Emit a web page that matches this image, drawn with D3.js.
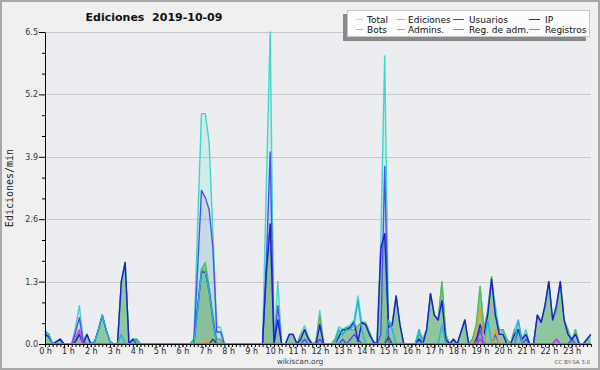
<!DOCTYPE html>
<html>
<head>
<meta charset="utf-8">
<script src="https://cdn.jsdelivr.net/npm/d3@7/dist/d3.min.js"></script>
<style>
  body { margin: 0; background: #f0f0f0; }
  svg { display: block; font-family: "DejaVu Sans", sans-serif; }
</style>
</head>
<body>
<svg id="chart" width="600" height="370"></svg>
<script>
// one value every 10 minutes, 6 per hour (each row = 2 hours)
const total = [
  0.27, 0.2, 0, 0.05, 0.1, 0,    0, 0, 0.35, 0.8, 0.1, 0.2,
  0, 0.05, 0.3, 0.6, 0.3, 0.05,  0, 0, 1.3, 1.7, 0, 0.1,
  0.1, 0, 0, 0, 0, 0,            0, 0, 0, 0, 0, 0,
  0, 0, 0, 0.1, 2.5, 4.8,        4.8, 4.2, 2.3, 0.35, 0.35, 0,
  0, 0, 0, 0, 0, 0,              0, 0, 0, 0, 3.3, 6.5,
  0, 1.3, 0, 0, 0.2, 0.2,        0, 0.2, 0.38, 0.15, 0, 0.05,
  0.7, 0, 0, 0, 0.1, 0.36,       0.3, 0.35, 0.4, 0.5, 1.0, 0.45,
  0.45, 0.25, 0.05, 0, 2.2, 6.0, 0.45, 0.45, 1.0, 0.4, 0, 0,
  0, 0, 0.3, 0.1, 0.3, 1.05,     0.6, 0.5, 1.3, 0.2, 0, 0.1,
  0, 0.25, 0.5, 0, 0.1, 0.4,     1.2, 0.3, 0.7, 1.4, 0.8, 0.3,
  0.3, 0.1, 0, 0.3, 0.5, 0.1,    0.3, 0, 0, 0.6, 0.45, 0.8,
  1.3, 0.5, 0.8, 1.3, 0.5, 0.3,  0.1, 0.3, 0, 0, 0.1, 0.2
];
const ediciones = [
  0.27, 0.2, 0, 0.05, 0.1, 0,    0, 0, 0.1, 0.25, 0.05, 0.2,
  0, 0.05, 0.3, 0.6, 0.3, 0.05,  0, 0, 1.3, 1.7, 0, 0.1,
  0.1, 0, 0, 0, 0, 0,            0, 0, 0, 0, 0, 0,
  0, 0, 0, 0.1, 0.8, 1.55,       1.7, 1.2, 0.6, 0.1, 0.1, 0,
  0, 0, 0, 0, 0, 0,              0, 0, 0, 0, 1.6, 2.5,
  0, 0.5, 0, 0, 0.2, 0.2,        0, 0.2, 0.28, 0.15, 0, 0.05,
  0.6, 0, 0, 0, 0.1, 0.3,        0.2, 0.35, 0.3, 0.3, 0.38, 0.45,
  0.45, 0.25, 0.05, 0, 2.0, 2.3, 0.4, 0.45, 1.0, 0.4, 0, 0,
  0, 0, 0.2, 0.1, 0.3, 1.05,     0.6, 0.5, 1.3, 0.2, 0, 0.1,
  0, 0.25, 0.5, 0, 0.1, 0.4,     1.2, 0.3, 0.7, 1.4, 0.6, 0.3,
  0.3, 0.1, 0, 0.3, 0.3, 0.1,    0.2, 0, 0, 0.6, 0.45, 0.8,
  1.3, 0.5, 0.7, 1.3, 0.5, 0.3,  0, 0.3, 0, 0, 0.1, 0.2
];
const registros = [
  0, 0, 0, 0, 0, 0,              0, 0, 0.25, 0.55, 0.05, 0,
  0, 0, 0, 0, 0, 0,              0, 0, 0, 0, 0, 0,
  0, 0, 0, 0, 0, 0,              0, 0, 0, 0, 0, 0,
  0, 0, 0, 0, 1.6, 3.2,          3.05, 2.8, 2.0, 0.25, 0.25, 0,
  0, 0, 0, 0, 0, 0,              0, 0, 0, 0, 1.7, 4.0,
  0, 0.8, 0, 0, 0, 0,            0, 0, 0.1, 0, 0, 0,
  0.1, 0, 0, 0, 0, 0,            0.1, 0, 0.1, 0.2, 0.1, 0,
  0, 0, 0, 0, 0.2, 3.7,          0.05, 0, 0, 0, 0, 0,
  0, 0, 0.1, 0, 0, 0,            0, 0, 0, 0, 0, 0,
  0, 0, 0, 0, 0, 0,              0.3, 0, 0, 0, 0.2, 0,
  0, 0, 0, 0, 0.3, 0,            0.1, 0, 0, 0, 0, 0,
  0, 0, 0.1, 0, 0, 0,            0.1, 0, 0, 0, 0, 0
];
const usuarios = [
  0.2, 0.15, 0, 0.05, 0.1, 0,    0, 0, 0.05, 0.2, 0, 0.2,
  0, 0.05, 0.3, 0.6, 0.3, 0.05,  0, 0, 1.3, 1.7, 0, 0.1,
  0, 0, 0, 0, 0, 0,              0, 0, 0, 0, 0, 0,
  0, 0, 0, 0, 0.75, 1.5,         1.5, 1.1, 0.5, 0, 0, 0,
  0, 0, 0, 0, 0, 0,              0, 0, 0, 0, 1.5, 2.5,
  0, 0.5, 0, 0, 0.2, 0.2,        0, 0.1, 0.3, 0.1, 0, 0,
  0.4, 0, 0, 0, 0, 0.15,         0.3, 0.3, 0.35, 0.46, 0.05, 0.45,
  0.4, 0.2, 0.05, 0, 2.0, 2.3,   0.35, 0.4, 1.0, 0.4, 0, 0,
  0, 0, 0.1, 0, 0.3, 1.05,       0.6, 0.5, 0.9, 0.1, 0, 0.1,
  0, 0.25, 0.5, 0, 0, 0.1,       0.4, 0.2, 0.6, 1.35, 0.6, 0.2,
  0.2, 0, 0, 0.2, 0.3, 0.1,      0.2, 0, 0, 0.6, 0.45, 0.8,
  1.3, 0.5, 0.8, 1.3, 0.5, 0.2,  0.1, 0.2, 0, 0, 0.1, 0.2
];
const admins = [
  0.27, 0.2, 0, 0, 0, 0,         0, 0, 0, 0, 0, 0,
  0, 0.05, 0.3, 0.6, 0.3, 0.05,  0, 0, 0.2, 0, 0, 0,
  0.1, 0, 0, 0, 0, 0,            0, 0, 0, 0, 0, 0,
  0, 0, 0, 0, 0.7, 1.55,         1.5, 1.1, 0.5, 0, 0, 0,
  0, 0, 0, 0, 0, 0,              0, 0, 0, 0, 0, 0,
  0, 0, 0, 0, 0, 0,              0, 0, 0, 0, 0, 0,
  0, 0, 0, 0, 0, 0.3,            0.2, 0.3, 0.3, 0.4, 0.9, 0.3,
  0, 0, 0, 0, 0, 0,              0.5, 0.3, 0, 0, 0, 0,
  0, 0, 0.3, 0, 0, 0,            0, 0, 0.4, 0, 0, 0,
  0, 0, 0, 0, 0, 0,              0, 0, 0.5, 0, 0, 0,
  0, 0, 0, 0, 0.5, 0,            0, 0, 0, 0, 0, 0,
  0, 0, 0, 0, 0, 0,              0, 0, 0, 0, 0, 0
];
const ip = [
  0, 0, 0, 0, 0, 0,  0, 0, 0, 0, 0, 0,
  0, 0, 0, 0, 0, 0,  0, 0, 0, 0, 0, 0,
  0, 0, 0, 0, 0, 0,  0, 0, 0, 0, 0, 0,
  0, 0, 0, 0, 0, 0,  0, 0, 0.1, 0, 0, 0,
  0, 0, 0, 0, 0, 0,  0, 0, 0, 0, 0, 0,
  0, 0, 0, 0, 0, 0,  0, 0, 0, 0, 0, 0,
  0, 0, 0, 0, 0, 0,  0, 0, 0, 0, 0, 0,
  0, 0, 0, 0, 0, 0,  0.15, 0, 0, 0, 0, 0,
  0, 0, 0, 0, 0, 0,  0, 0, 0, 0, 0, 0,
  0, 0, 0, 0, 0, 0,  0.1, 0, 0, 0, 0, 0,
  0, 0, 0, 0, 0, 0,  0, 0, 0, 0, 0, 0,
  0, 0, 0, 0, 0, 0,  0, 0, 0, 0, 0, 0
];
const bots = [
  0, 0, 0, 0, 0, 0,  0, 0, 0, 0, 0, 0,
  0, 0, 0, 0, 0, 0,  0, 0, 0, 0, 0, 0,
  0, 0, 0, 0, 0, 0,  0, 0, 0, 0, 0, 0,
  0, 0, 0, 0, 0, 0,  0.08, 0, 0, 0, 0, 0,
  0, 0, 0, 0, 0, 0,  0, 0, 0, 0, 0, 0,
  0, 0, 0, 0, 0, 0,  0, 0, 0, 0, 0, 0,
  0, 0, 0, 0, 0, 0,  0, 0, 0, 0, 0, 0,
  0, 0, 0, 0, 0, 0,  0, 0, 0, 0, 0, 0,
  0, 0, 0, 0, 0, 0,  0, 0, 0, 0, 0, 0,
  0, 0, 0, 0, 0, 0.2,  0.75, 0.1, 0, 0, 0.3, 0,
  0, 0, 0, 0, 0, 0,  0, 0, 0, 0, 0, 0,
  0, 0, 0, 0, 0, 0,  0, 0, 0, 0, 0, 0
];
const regAdm = [
  0, 0, 0, 0, 0, 0,  0, 0, 0.15, 0.3, 0, 0,
  0, 0, 0, 0, 0, 0,  0, 0, 0, 0, 0, 0,
  0, 0, 0, 0, 0, 0,  0, 0, 0, 0, 0, 0,
  0, 0, 0, 0, 0, 0,  0, 0, 0, 0, 0, 0,
  0, 0, 0, 0, 0, 0,  0, 0, 0, 0, 0, 0,
  0, 0, 0, 0, 0, 0,  0, 0, 0, 0, 0, 0,
  0, 0, 0, 0, 0, 0,  0, 0, 0, 0, 0, 0,
  0, 0, 0, 0, 0, 0,  0, 0, 0, 0, 0, 0,
  0, 0, 0, 0, 0, 0,  0, 0, 0, 0, 0, 0,
  0, 0, 0, 0, 0, 0,  0.1, 0, 0, 0, 0, 0,
  0, 0, 0, 0, 0, 0,  0, 0, 0, 0, 0, 0,
  0, 0, 0.1, 0, 0, 0,  0, 0, 0, 0, 0, 0
];
const yTicks = [0, 1.3, 2.6, 3.9, 5.2, 6.5];
const legendItems = [
  ['Total', '#9fe6e2'], ['Ediciones', '#7fd07f'], ['Usuarios', '#3a3af0'], ['IP', '#333333'],
  ['Bots', '#ffa530'], ['Admins.', '#3fd0e0'], ['Reg. de adm.', '#e040f0'], ['Registros', '#7a7aff']
];

const svg = d3.select('#chart');
const mLeft = 45, mTop = 32, mBottom = 344, mRight = 590.8;

const x = d3.scaleLinear().domain([0, 143]).range([mLeft, mRight]);
const y = d3.scaleLinear().domain([0, 6.5]).range([mBottom, mTop]);

// frame
svg.append('rect').attr('x', 1).attr('y', 1).attr('width', 598).attr('height', 368)
  .attr('fill', '#f0f0f0').attr('stroke', '#a8a8a8').attr('stroke-width', 2);

svg.append('rect').attr('x', mLeft).attr('y', mTop).attr('width', mRight - mLeft).attr('height', mBottom - mTop)
  .attr('fill', '#ebedf0');

// grid
svg.append('g').selectAll('line').data(yTicks.slice(1)).join('line')
  .attr('x1', mLeft).attr('x2', mRight)
  .attr('y1', d => Math.round(y(d)) + 0.5).attr('y2', d => Math.round(y(d)) + 0.5)
  .attr('stroke', '#c8c8c8');

const area = d3.area().x((d, i) => x(i)).y0(y(0)).y1(d => y(d));
const line = d3.line().x((d, i) => x(i)).y(d => y(d));

const plot = svg.append('g');
plot.append('path').datum(total).attr('d', area).attr('fill', '#40e0d0').attr('fill-opacity', 0.16);
plot.append('path').datum(registros).attr('d', area).attr('fill', '#8486c8').attr('fill-opacity', 0.16);
plot.append('path').datum(ediciones).attr('d', area).attr('fill', '#62ae6c').attr('fill-opacity', 0.6);

const lines = [
  [total, '#3fd8c8'],
  [ediciones, '#5cb85c'],
  [registros, '#5050f0'],
  [usuarios, '#1c1cd8'],
  [admins, '#22b4dc'],
  [ip, '#444444'],
  [bots, '#f39a2a'],
  [regAdm, '#d838e8']
];
lines.forEach(([data, color]) => {
  plot.append('path').datum(data).attr('d', line)
    .attr('fill', 'none').attr('stroke', color).attr('stroke-width', 1.4)
    .attr('stroke-linejoin', 'round');
});

// y axis
const minorY = d3.range(16).map(k => k * 1.3 / 3).filter((d, k) => k % 3 !== 0);
svg.append('g').attr('transform', `translate(${mLeft},0)`)
  .call(d3.axisLeft(y).tickValues(minorY).tickSize(3).tickFormat('').tickSizeOuter(0))
  .call(g => g.select('.domain').remove());
const yAxis = svg.append('g').attr('transform', `translate(${mLeft},0)`)
  .call(d3.axisLeft(y).tickValues(yTicks).tickSize(6).tickPadding(1)
    .tickFormat(d3.format('.1f')).tickSizeOuter(0));
yAxis.selectAll('text').attr('font-size', 8).attr('fill', '#333').attr('font-family', '"DejaVu Sans", sans-serif');

// x axis
svg.append('g').attr('transform', `translate(0,${mBottom})`)
  .call(d3.axisBottom(x).tickValues(d3.range(144)).tickSize(3).tickFormat('').tickSizeOuter(0));
const xAxis = svg.append('g').attr('transform', `translate(0,${mBottom})`)
  .call(d3.axisBottom(x).tickValues(d3.range(0, 144, 6)).tickSize(3).tickPadding(1.5)
    .tickFormat(d => (d / 6) + ' h').tickSizeOuter(0));
xAxis.selectAll('text').attr('font-size', 8).attr('fill', '#222').attr('font-family', '"DejaVu Sans", sans-serif');
xAxis.select('.domain').remove();
svg.selectAll('.tick line').attr('stroke', '#000');
svg.selectAll('.domain').attr('stroke', '#000');

// title & labels
svg.append('text').attr('x', 154).attr('y', 21).attr('text-anchor', 'middle')
  .attr('font-size', 11).attr('font-weight', 'bold').attr('fill', '#111')
  .attr('xml:space', 'preserve').text('Ediciones  2019-10-09');

svg.append('text').attr('transform', `translate(13,${(mTop + mBottom) / 2}) rotate(-90)`)
  .attr('text-anchor', 'middle').attr('font-size', 10).attr('fill', '#222')
  .attr('font-family', '"DejaVu Sans Mono", monospace').text('Ediciones/min');

svg.append('text').attr('x', 300).attr('y', 364).attr('text-anchor', 'middle')
  .attr('font-size', 7.5).attr('fill', '#444').text('wikiscan.org');
svg.append('text').attr('x', 590).attr('y', 364).attr('text-anchor', 'end')
  .attr('font-size', 5.5).attr('fill', '#555').text('CC BY-SA 3.0');

// legend
const lg = svg.append('g');
lg.append('rect').attr('x', 343).attr('y', 14).attr('width', 243).attr('height', 27).attr('fill', '#8a8a8a');
lg.append('rect').attr('x', 347.5).attr('y', 10.5).attr('width', 242).attr('height', 26)
  .attr('fill', '#fcfcfc').attr('stroke', '#c8c8c8');
const colX = [367, 408, 469, 545];
const swX = [[356, 363], [397, 405], [453, 464], [529, 540]];
legendItems.forEach(([name, color], k) => {
  const c = k % 4, r = Math.floor(k / 4);
  const cy = 19 + r * 10;
  lg.append('line').attr('x1', swX[c][0]).attr('x2', swX[c][1]).attr('y1', cy + 0.5).attr('y2', cy + 0.5)
    .attr('stroke', color).attr('stroke-width', 1);
  lg.append('text').attr('x', colX[c]).attr('y', cy + 3.5).attr('font-size', 9).attr('fill', '#111').text(name);
});
</script>
</body>
</html>
